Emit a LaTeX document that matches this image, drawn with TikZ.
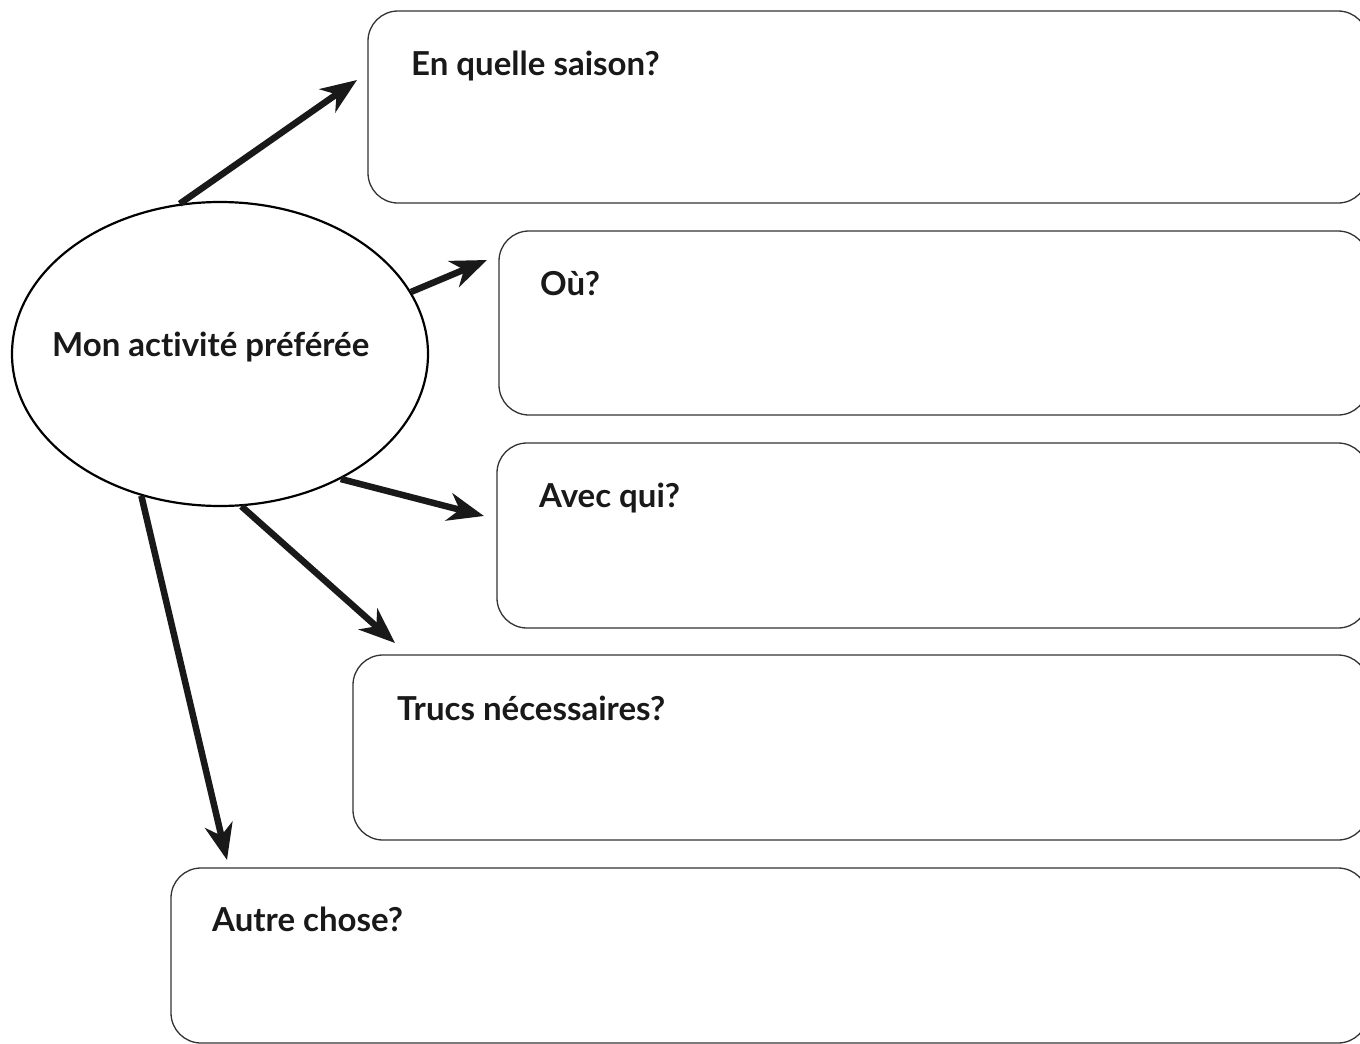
\documentclass[tikz,border=0pt]{standalone}
\usepackage{fontspec}
\setmainfont{Lato}[Ligatures=NoCommon]
\usetikzlibrary{arrows.meta,shapes.geometric}
\begin{document}
\begin{tikzpicture}[x=1pt,y=-1pt,
  qbox/.style={draw=black!80,line width=1.3pt,rounded corners=30pt},
  qtext/.style={anchor=base west,inner sep=0pt,font=\fontsize{33}{38}\selectfont\bfseries,text=black!90},
  bigarrow/.style={line width=6.5pt,black!90,-{Stealth[length=36pt,width=28pt,inset=11pt]}}]
\useasboundingbox (0,0) rectangle (1360,1044);
\begin{scope}
\clip (0,0) rectangle (1360,1044);
\draw[qbox] (368,11) rectangle (1368,203);
\draw[qbox] (499,231) rectangle (1368,415);
\draw[qbox] (497,443) rectangle (1368,628);
\draw[qbox] (353,655) rectangle (1368,840);
\draw[qbox] (171,868) rectangle (1368,1043);
\end{scope}
\node[qtext] (t1) at (411,75) {En quelle saison?};
\node[qtext] (t2) at (540,295) {Où?};
\node[qtext] (t3) at (539,507) {Avec qui?};
\node[qtext] (t4) at (397,720) {Trucs nécessaires?};
\node[qtext] (t5) at (212,931) {Autre chose?};
\node[draw=black,line width=2.2pt,ellipse,minimum width=416pt,minimum height=304pt,inner sep=0pt] (e) at (220,354) {};
\node[qtext] (tm) at (52,356) {Mon activité préférée};
\coordinate (p1) at (357,80);
\coordinate (p2) at (487,260);
\coordinate (p3) at (484,516);
\coordinate (p4) at (395,643);
\coordinate (p5) at (227,860);
\draw[bigarrow] (e.105.7) -- (p1);
\draw[bigarrow] (e.18.8) -- (p2);
\draw[bigarrow] (e.-46.4) -- (p3);
\draw[bigarrow] (e.-82.6) -- (p4);
\draw[bigarrow] (e.-119.2) -- (p5);
\end{tikzpicture}
\end{document}
